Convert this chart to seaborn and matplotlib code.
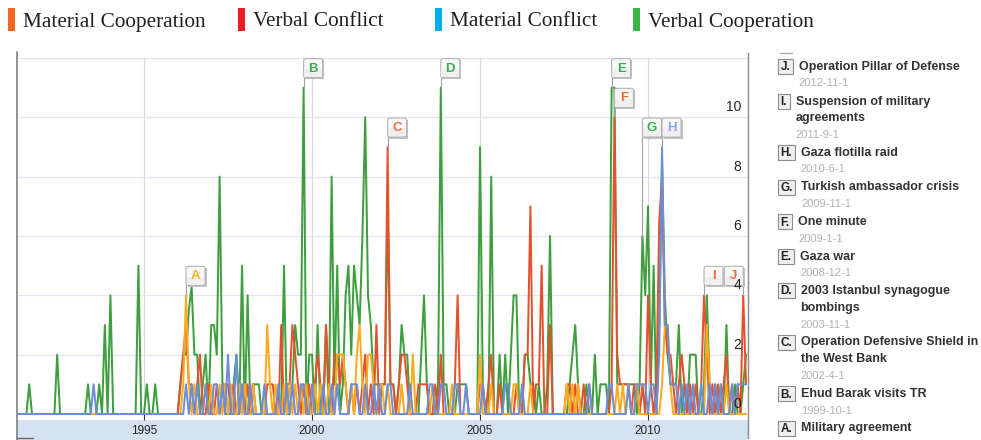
import matplotlib
matplotlib.use("Agg")
import matplotlib.pyplot as plt
from matplotlib.patches import Rectangle, FancyBboxPatch
from matplotlib.lines import Line2D
import numpy as np
import pandas as pd
import seaborn as sns

# ---------------- data ----------------
START_YEAR, START_MONTH = 1991, 4   # first monthly value (April 1991)

# monthly counts, one row per year (1991 row starts in April)
verbal_cooperation = [
    [0, 0, 0, 0, 1, 0, 0, 0, 0],                      # 1991
    [0, 0, 0, 0, 0, 2, 0, 0, 0, 0, 0, 0],             # 1992
    [0, 0, 0, 0, 1, 0, 0, 0, 1, 0, 3, 0],             # 1993
    [4, 0, 0, 0, 0, 0, 0, 0, 0, 0, 5, 0],             # 1994
    [0, 1, 0, 0, 1, 0, 0, 0, 0, 0, 0, 0],             # 1995
    [0, 1, 2, 2, 3.5, 4.3, 2, 2, 0, 1, 2, 0],         # 1996
    [3, 3, 2, 8, 1, 0, 0, 0, 1, 2, 0, 5],             # 1997
    [0, 4, 0, 1, 1, 1, 0, 0, 0, 0, 0, 0],             # 1998
    [0, 0, 5, 0, 0, 1, 3, 2, 2, 11, 0, 2],            # 1999
    [2, 0, 3, 0, 0, 3, 0, 8, 1, 5, 0, 1],             # 2000
    [4, 5, 2, 5, 4, 3, 6, 10, 4, 3, 1, 1],            # 2001
    [1, 1, 1, 7, 1, 1, 0, 1, 3, 2, 2, 0],             # 2002
    [0, 0, 0, 2, 4, 1, 0, 0, 0, 1, 11, 1],            # 2003
    [1, 0, 0, 0, 1, 1, 1, 1, 0, 0, 0, 0],             # 2004
    [9, 1, 0, 0, 8, 0, 0, 2, 0, 2, 0, 2],             # 2005
    [4, 4, 0, 0, 2, 2, 1, 1, 0, 1, 0, 0],             # 2006
    [1, 6, 0, 0, 0, 0, 0, 0, 1, 2, 3, 1],             # 2007
    [0, 0, 1, 0, 0, 2, 0, 1, 1, 1, 0, 11],            # 2008
    [11, 1, 1, 1, 1, 1, 1, 1, 0, 1, 6, 4],            # 2009
    [7, 1, 5, 0, 3, 8.5, 4, 2, 1, 1, 1, 3],           # 2010
    [0, 1, 0, 2, 2, 2, 0, 0, 1, 4, 1, 0],             # 2011
    [1, 0, 1, 0, 3, 0, 0, 1, 0, 0, 1, 2],             # 2012
]

verbal_conflict = [
    [0, 0, 0, 0, 0, 0, 0, 0, 0],                      # 1991
    [0, 0, 0, 0, 0, 0, 0, 0, 0, 0, 0, 0],             # 1992
    [0, 0, 0, 0, 0, 0, 0, 0, 0, 0, 0, 0],             # 1993
    [0, 0, 0, 0, 0, 0, 0, 0, 0, 0, 0, 0],             # 1994
    [0, 0, 0, 0, 0, 0, 0, 0, 0, 0, 0, 0],             # 1995
    [0, 1, 2, 3, 1, 1, 0, 1, 2, 0, 0, 1],             # 1996
    [0, 0, 1, 0, 1, 1, 1, 0, 1, 0, 0, 1],             # 1997
    [0, 1, 0, 1, 0, 0, 0, 0, 1, 1, 1, 0],             # 1998
    [0, 3, 0, 1, 1, 3, 2, 1, 0, 1, 0, 1],             # 1999
    [0, 1, 2, 1, 0, 3, 1, 0, 2, 2, 1, 2],             # 2000
    [1, 0, 1, 0, 1, 0, 1, 2, 0, 1, 0, 3],             # 2001
    [0, 1, 1, 9, 1, 1, 0, 1, 2, 2, 1, 0],             # 2002
    [0, 0, 1, 1, 1, 1, 0, 0, 1, 0, 2, 0],             # 2003
    [0, 0, 0, 1, 4, 0, 0, 0, 0, 0, 0, 0],             # 2004
    [1, 1, 0, 1, 2, 0, 0, 1, 0, 0, 0, 0],             # 2005
    [0, 1, 0, 0, 2, 2, 7, 0, 1, 1, 5, 0],             # 2006
    [0, 3, 0, 0, 0, 0, 0, 1, 1, 0, 1, 0],             # 2007
    [0, 1, 0, 1, 0, 0, 0, 0, 0, 0, 0, 1],             # 2008
    [10, 2, 1, 1, 1, 1, 0, 1, 1, 0, 1, 0],            # 2009
    [4, 1, 0, 1, 6.5, 8, 3, 2, 2, 1, 0, 1],           # 2010
    [2, 1, 0, 1, 0, 1, 0, 1, 4, 2, 0, 1],             # 2011
    [0, 1, 0, 1, 2, 0, 1, 0, 1, 0, 4, 1],             # 2012
]

material_cooperation = [
    [0, 0, 0, 0, 0, 0, 0, 0, 0],                      # 1991
    [0, 0, 0, 0, 0, 0, 0, 0, 0, 0, 0, 0],             # 1992
    [0, 0, 0, 0, 0, 0, 0, 0, 0, 0, 0, 0],             # 1993
    [0, 0, 0, 0, 0, 0, 0, 0, 0, 0, 0, 0],             # 1994
    [0, 0, 0, 0, 0, 0, 0, 0, 0, 0, 0, 0],             # 1995
    [0, 0, 1, 4, 1, 0, 1, 0, 0, 0, 1, 0],             # 1996
    [1, 0, 0, 1, 0, 1, 0, 1, 0, 0, 1, 0],             # 1997
    [1, 0, 0, 1, 0, 0, 0, 0, 3, 1, 0, 1],             # 1998
    [0, 0, 1, 0, 1, 0, 1, 0, 1, 0, 1, 0],             # 1999
    [0, 1, 0, 1, 0, 0, 1, 0, 0, 2, 2, 2],             # 2000
    [1, 0, 1, 0, 2, 3, 1, 0, 2, 2, 1, 0],             # 2001
    [1, 1, 0, 1, 0, 0, 0, 0, 1, 0, 0, 0],             # 2002
    [2, 0, 0, 0, 0, 0, 0, 1, 0, 0, 0, 0],             # 2003
    [0, 0, 1, 0, 0, 0, 0, 0, 0, 0, 0, 0],             # 2004
    [2, 0, 0, 0, 1, 0, 0, 0, 0, 0, 0, 0],             # 2005
    [1, 1, 0, 0, 0, 0, 1, 0, 0, 0, 0, 0],             # 2006
    [0, 0, 0, 0, 0, 0, 0, 1, 0, 1, 0, 1],             # 2007
    [0, 0, 0, 0, 0, 0, 0, 0, 0, 0, 0, 0],             # 2008
    [0, 1, 0, 1, 0, 1, 0, 0, 1, 0, 0, 0],             # 2009
    [0, 0, 0, 0, 0, 1, 3, 3, 1, 0, 0, 0],             # 2010
    [0, 0, 0, 0, 0, 0, 0, 0, 0, 3, 1, 0],             # 2011
    [0, 0, 0, 0, 1, 0, 0, 0, 0, 0, 0, 0],             # 2012
]

material_conflict = [
    [0, 0, 0, 0, 0, 0, 0, 0, 0],                      # 1991
    [0, 0, 0, 0, 0, 0, 0, 0, 0, 0, 0, 0],             # 1992
    [0, 0, 0, 0, 0, 0, 1, 0, 0, 0, 0, 0],             # 1993
    [0, 0, 0, 0, 0, 0, 0, 0, 0, 0, 0, 0],             # 1994
    [0, 0, 0, 0, 0, 0, 0, 0, 0, 0, 0, 0],             # 1995
    [0, 0, 0, 1, 0, 1, 0, 1, 0, 0, 1, 0],             # 1996
    [0, 1, 1, 0, 1, 0, 2, 0, 0, 2, 0, 1],             # 1997
    [0, 0, 1, 0, 0, 0, 0, 1, 0, 0, 0, 0],             # 1998
    [1, 0, 0, 1, 0, 1, 0, 0, 1, 1, 0, 0],             # 1999
    [1, 0, 0, 0, 1, 0, 0, 1, 0, 1, 0, 0],             # 2000
    [0, 0, 1, 1, 1, 0, 0, 1, 0, 0, 1, 0],             # 2001
    [1, 0, 0, 1, 1, 0, 0, 0, 0, 0, 0, 1],             # 2002
    [0, 0, 0, 0, 0, 0, 1, 1, 0, 0, 1, 1],             # 2003
    [0, 0, 0, 1, 1, 0, 0, 1, 0, 0, 0, 0],             # 2004
    [0, 1, 0, 0, 0, 0, 0, 0, 0, 1, 1, 0],             # 2005
    [0, 0, 0, 1, 0, 0, 0, 0, 0, 0, 0, 0],             # 2006
    [0, 0, 0, 0, 0, 0, 0, 0, 0, 0, 0, 0],             # 2007
    [0, 0, 0, 1, 0, 0, 0, 0, 0, 0, 1, 1],             # 2008
    [0, 0, 0, 0, 0, 1, 0, 0, 1, 1, 1, 1],             # 2009
    [0, 1, 1, 0, 2, 9, 3, 3, 1, 1, 1, 0],             # 2010
    [1, 0, 1, 0, 1, 0, 0, 1, 0, 0, 1, 0],             # 2011
    [1, 0, 1, 0, 0, 0, 1, 0, 1, 1, 1, 1],             # 2012
]

series_order = ["Verbal Cooperation", "Verbal Conflict",
                "Material Cooperation", "Material Conflict"]
series_rows = [verbal_cooperation, verbal_conflict,
               material_cooperation, material_conflict]
line_colors = ["#3f9f3f", "#e2532d", "#fbab1c", "#6c8ed8"]
flag_colors = ["#3cae49", "#f26a3d", "#f9b31c", "#86a6e3"]

legend_labels = ["Material Cooperation", "Verbal Conflict",
                 "Material Conflict", "Verbal Cooperation"]
legend_colors = ["#f26522", "#ec1c24", "#00adef", "#3ab54a"]

event_letters = ["A", "B", "C", "D", "E", "F", "G", "H", "I", "J"]
event_titles = ["Military agreement", "Ehud Barak visits TR",
                "Operation Defensive Shield in\nthe West Bank",
                "2003 Istanbul synagogue\nbombings", "Gaza war", "One minute",
                "Turkish ambassador crisis", "Gaza flotilla raid",
                "Suspension of military\nagreements",
                "Operation Pillar of Defense"]
event_dates = ["1996-4-1", "1999-10-1", "2002-4-1", "2003-11-1", "2008-12-1",
               "2009-1-1", "2009-11-1", "2010-6-1", "2011-9-1", "2012-11-1"]
event_series = ["Material Cooperation", "Verbal Cooperation", "Verbal Conflict",
                "Verbal Cooperation", "Verbal Cooperation", "Verbal Conflict",
                "Verbal Cooperation", "Material Conflict", "Verbal Conflict",
                "Verbal Conflict"]

year_ticks = [1995, 2000, 2005, 2010]
value_ticks = [0, 2, 4, 6, 8, 10]

# ---------------- build table ----------------
series_values = {name: [v for row in rows for v in row]
                 for name, rows in zip(series_order, series_rows)}
n = len(series_values[series_order[0]])
t = START_YEAR + (START_MONTH - 1 + np.arange(n)) / 12.0
df = pd.concat([pd.DataFrame({"t": t, "value": series_values[s], "series": s})
                for s in series_order], ignore_index=True)

# ---------------- figure ----------------
sns.set_theme(style="white")
plt.rcParams["font.family"] = ["Liberation Sans", "DejaVu Sans"]

W, H = 981, 440
fig = plt.figure(figsize=(W / 100, H / 100), dpi=100)
fig.patch.set_facecolor("white")
# zero line sits exactly on a pixel boundary so the 2-px lines cover whole rows
AX_L, AX_R, AX_T, AX_B = 17, 748, 58, 414
ax = fig.add_axes([AX_L / W, 1 - AX_B / H, (AX_R - AX_L) / W, (AX_B - AX_T) / H])
ax.set_facecolor("white")

# one seaborn call per series, in drawing order (blue on top, as in the original)
LW = 1.44   # 2 px at 100 dpi
for z, (name, col) in enumerate(zip(series_order, line_colors)):
    sns.lineplot(data=df[df["series"] == name], x="t", y="value", color=col,
                 estimator=None, linewidth=LW, legend=False, ax=ax,
                 zorder=3 + z, clip_on=False, solid_joinstyle="round")

ax.set_xlim(1991.22, 2012.975)
ax.set_ylim(0, 12)
ax.set_xlabel("")
ax.set_ylabel("")
for sp in ax.spines.values():
    sp.set_visible(False)
ax.set_axisbelow(True)
ax.set_yticks(value_ticks + [12])
ax.tick_params(axis="y", length=0, labelleft=False, labelright=False)
ax.grid(True, axis="y", color="#e4e4f2", linewidth=0.9)
ax.set_xticks(year_ticks)
ax.set_xticklabels([str(y) for y in year_ticks])
ax.grid(True, axis="x", color="#d3ded3", linewidth=0.9)
ax.tick_params(axis="x", direction="out", length=4.0, width=0.8,
               color="#333333", pad=3.8, labelsize=8.5, labelcolor="#222222",
               bottom=True)

# bottom band (behind axes)
fig.add_artist(Rectangle((AX_L / W, 0), (AX_R - AX_L) / W, 20 / H,
                         transform=fig.transFigure, facecolor="#d5e2f2",
                         edgecolor="none", zorder=-1))

# ---------------- overlay in pixel coordinates ----------------
ov = fig.add_axes([0, 0, 1, 1], zorder=10)
ov.set_xlim(0, W)
ov.set_ylim(H, 0)
ov.axis("off")
ov.patch.set_alpha(0)

def to_px(x, y):
    dx, dy = ax.transData.transform((x, y))
    return dx, H - dy

# chart frame lines
ov.add_line(Line2D([AX_L, AX_L], [52, 440], color="#8a8a8a", lw=1.3))
ov.add_line(Line2D([AX_R, AX_R], [53, 438], color="#8a8a8a", lw=1.0))
ov.add_line(Line2D([AX_L, AX_L + 16], [438.5, 438.5], color="#666666", lw=1.0))

# legend
leg_text_x = [23, 253, 450, 648]
for lx, lab, col in zip(leg_text_x, legend_labels, legend_colors):
    ov.add_patch(Rectangle((lx - 15, 8), 7, 23, facecolor=col, edgecolor="none"))
    ov.text(lx, 26.5, lab, ha="left", va="baseline", fontsize=15.3,
            family=["Liberation Serif", "DejaVu Serif"], color="#231f20")

# event flags
flag_col = dict(zip(series_order, flag_colors))
align_to = {"G": "H"}
BW = BH = 19
flags = {}
for letter, date, ser in zip(event_letters, event_dates, event_series):
    yy, mm, _ = (int(p) for p in date.split("-"))
    k = (yy - START_YEAR) * 12 + (mm - START_MONTH)
    tx = yy + (mm - 1) / 12.0
    px, py = to_px(tx, series_values[ser][k])
    top = py - 10 - BH
    left = px if px + BW <= AX_R else px - BW
    flags[letter] = dict(px=px, py=py, top=top, left=left, ser=ser)
for a, b in align_to.items():
    flags[a]["top"] = min(flags[a]["top"], flags[b]["top"])

for letter in event_letters:
    f = flags[letter]
    ov.add_line(Line2D([f["px"], f["px"]], [f["top"] + BH, f["py"]],
                       color="#a0a0a0", lw=0.8, zorder=1))
    ov.add_patch(Rectangle((f["left"] + 1.6, f["top"] + 1.6), BW, BH,
                           facecolor="#c2c2c2", edgecolor="none", zorder=1))
    ov.add_patch(FancyBboxPatch((f["left"], f["top"]), BW, BH,
                                boxstyle="round,pad=0,rounding_size=2",
                                facecolor="#f8f8f8", edgecolor="#b3b3b3",
                                lw=0.8, zorder=1))
    ov.add_patch(Rectangle((f["left"] + 0.6, f["top"] + BH * 0.55), BW - 1.2,
                           BH * 0.42, facecolor="#efefef", edgecolor="none",
                           zorder=1))
    ov.text(f["left"] + BW / 2, f["top"] + BH / 2 + 0.5, letter, ha="center",
            va="center", fontsize=9.5, fontweight="bold",
            color=flag_col[f["ser"]], zorder=2)

# value labels inside the right edge of the plot (drawn above the flags)
for v in value_ticks:
    lx, ly = to_px(ax.get_xlim()[1], v)
    ov.text(lx - 7, ly - 10, str(v), ha="right", va="center", fontsize=10,
            color="#222222", zorder=4)

# event list on the right
renderer = fig.canvas.get_renderer()
ov.add_line(Line2D([780, 792], [53, 53], color="#aaaaaa", lw=1.0))
y = 67
for letter, title, date in zip(event_letters[::-1], event_titles[::-1],
                               event_dates[::-1]):
    lt = ov.text(780.5, y + 0.5, letter + ".", ha="left", va="center",
                 fontsize=8.5, fontweight="bold", color="#222222", zorder=3)
    wpx = lt.get_window_extent(renderer).width
    ov.add_patch(Rectangle((778, y - 7.5), wpx + 5, 15, facecolor="#efefef",
                           edgecolor="#8c8c8c", lw=0.8, zorder=2))
    tx0 = 778 + wpx + 5 + 6
    lines = title.split("\n")
    for j, line in enumerate(lines):
        ov.text(tx0, y + 17 * j, line, ha="left", va="center", fontsize=9,
                fontweight="bold", color="#333333")
    dy = y + 17 * (len(lines) - 1) + 16.5
    if dy < H - 4:
        ov.text(tx0, dy, date, ha="left", va="center", fontsize=8,
                color="#b3b3b3")
    y = dy + 18

fig.savefig("out.png", dpi=100, facecolor="white")
